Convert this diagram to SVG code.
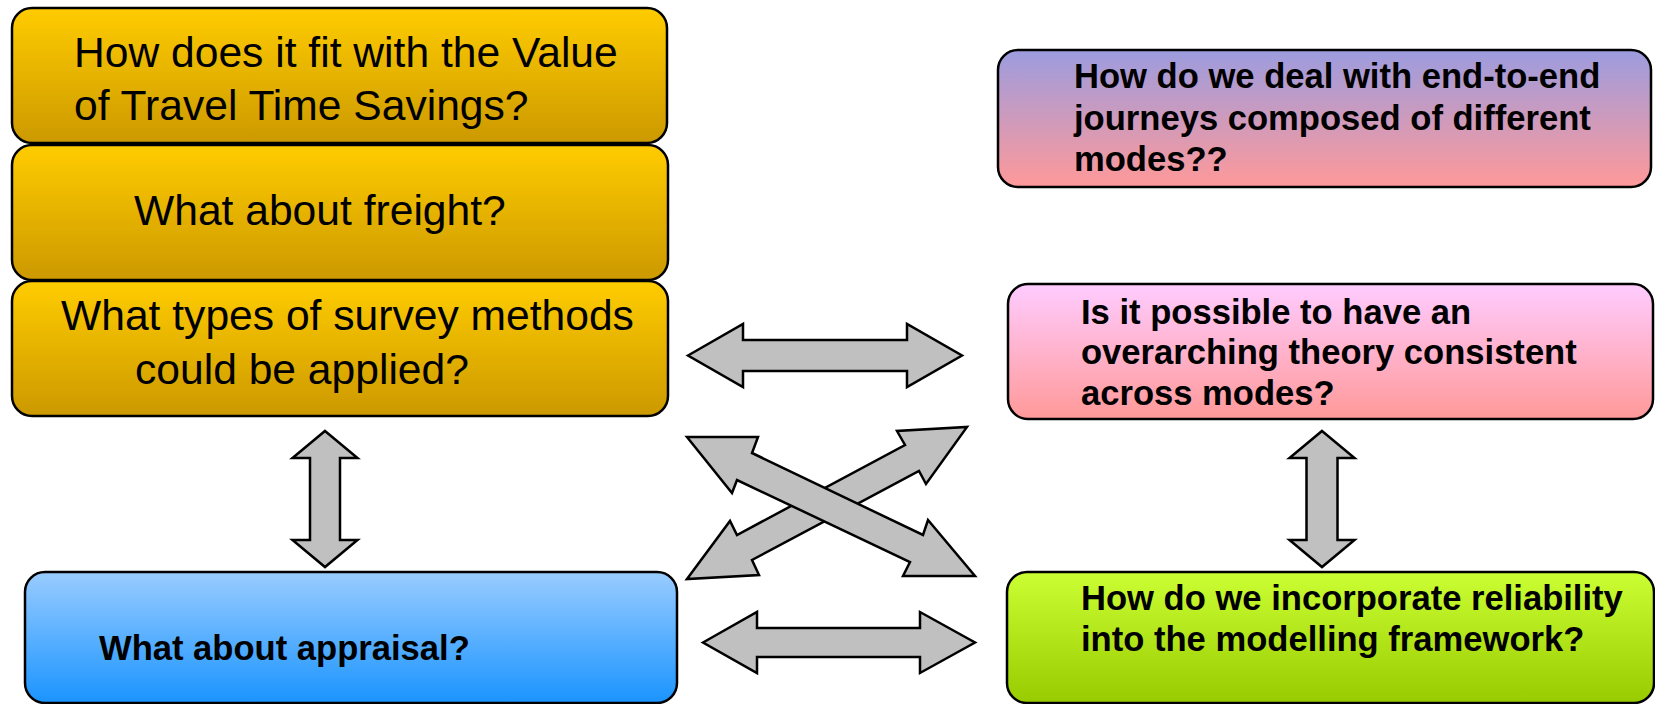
<svg xmlns="http://www.w3.org/2000/svg" width="1655" height="704" viewBox="0 0 1655 704">
  <defs>
    <linearGradient id="gGold" x1="0" y1="0" x2="0" y2="1">
      <stop offset="0" stop-color="#FFCC00"/>
      <stop offset="1" stop-color="#CC9900"/>
    </linearGradient>
    <linearGradient id="gLavender" x1="0" y1="0" x2="0" y2="1">
      <stop offset="0" stop-color="#9C9CDF"/>
      <stop offset="1" stop-color="#FF9999"/>
    </linearGradient>
    <linearGradient id="gPink" x1="0" y1="0" x2="0" y2="1">
      <stop offset="0" stop-color="#FFCCFF"/>
      <stop offset="1" stop-color="#FF9999"/>
    </linearGradient>
    <linearGradient id="gLime" x1="0" y1="0" x2="0" y2="1">
      <stop offset="0" stop-color="#CCFF33"/>
      <stop offset="1" stop-color="#99CC00"/>
    </linearGradient>
    <linearGradient id="gBlue" x1="0" y1="0" x2="0" y2="1">
      <stop offset="0" stop-color="#99CCFF"/>
      <stop offset="1" stop-color="#1A94FF"/>
    </linearGradient>
  </defs>
  <style>
    .box { stroke: #000; stroke-width: 2.5; }
    .plain { font-family: "Liberation Sans", Arial, sans-serif; font-size: 42.6px; fill: #000; }
    .bold { font-family: "Liberation Sans", Arial, sans-serif; font-size: 34.6px; font-weight: bold; fill: #000; }
    .arrow { fill: #C0C0C0; stroke: #000; stroke-width: 2.5; stroke-linejoin: miter; }
  </style>

  <rect width="1655" height="704" fill="#FFFFFF"/>

  <!-- left stack of questions -->
  <g id="vtts">
    <rect class="box" x="12" y="8" width="655" height="135" rx="20" fill="url(#gGold)"/>
    <text class="plain" x="74" y="67">How does it fit with the Value</text>
    <text class="plain" x="74" y="120">of Travel Time Savings?</text>
  </g>
  <g id="freight">
    <rect class="box" x="12" y="145" width="656" height="135" rx="20" fill="url(#gGold)"/>
    <text class="plain" x="134" y="225">What about freight?</text>
  </g>
  <g id="survey">
    <rect class="box" x="12" y="281" width="656" height="135" rx="20" fill="url(#gGold)"/>
    <text class="plain" x="61" y="330">What types of survey methods</text>
    <text class="plain" x="135" y="384">could be applied?</text>
  </g>
  <g id="appraisal">
    <rect class="box" x="25" y="572" width="652" height="131" rx="20" fill="url(#gBlue)"/>
    <text class="bold" x="99" y="660">What about appraisal?</text>
  </g>

  <!-- right column of questions -->
  <g id="journeys">
    <rect class="box" x="998" y="50" width="653" height="137" rx="20" fill="url(#gLavender)"/>
    <text class="bold" x="1074" y="88">How do we deal with end-to-end</text>
    <text class="bold" x="1074" y="130">journeys composed of different</text>
    <text class="bold" x="1074" y="171">modes??</text>
  </g>
  <g id="theory">
    <rect class="box" x="1008" y="284" width="645" height="135" rx="20" fill="url(#gPink)"/>
    <text class="bold" x="1081" y="324">Is it possible to have an</text>
    <text class="bold" x="1081" y="364">overarching theory consistent</text>
    <text class="bold" x="1081" y="405">across modes?</text>
  </g>
  <g id="reliability">
    <rect class="box" x="1007" y="572" width="647" height="131" rx="20" fill="url(#gLime)"/>
    <text class="bold" x="1081" y="610">How do we incorporate reliability</text>
    <text class="bold" x="1081" y="651">into the modelling framework?</text>
  </g>

  <!-- double-headed block arrows -->
  <g id="connectors">
    <polygon class="arrow" points="688,355.5 743,324 743,340 907,340 907,324 962,355.5 907,387 907,371 743,371 743,387"/>
    <polygon class="arrow" points="703,642.5 757,612 757,628 920,628 920,612 975,642.5 920,673 920,657 757,657 757,673"/>
    <polygon class="arrow" points="325,431 357.5,458 340,458 340,540 357.5,540 325,567 292.5,540 310,540 310,458 292.5,458"/>
    <polygon class="arrow" points="1322,431 1354.5,458 1337.5,458 1337.5,540 1354.5,540 1322,567 1289.5,540 1306.5,540 1306.5,458 1289.5,458"/>
    <polygon class="arrow" points="687,579 730,521 737,535 905,445 897,431 967,427 926,484 919,471 752,560 759,575"/>
    <polygon class="arrow" points="687,437 758,437 752,453 923,535 928,520 975,576 903,576 910,562 737,480 732,493"/>
  </g>
</svg>
